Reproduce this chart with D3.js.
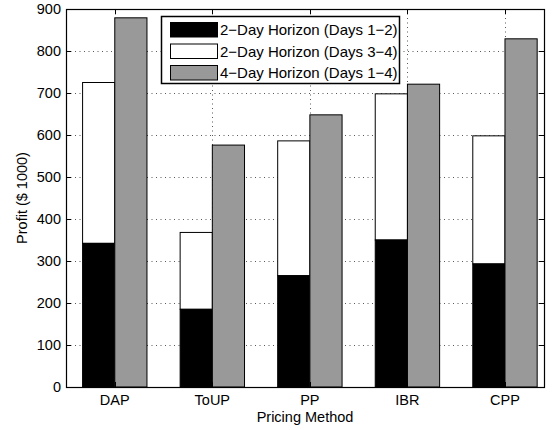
<!DOCTYPE html>
<html><head><meta charset="utf-8">
<script src="https://cdn.jsdelivr.net/npm/d3@7"></script>
<style>html,body{margin:0;padding:0;background:#fff;}svg{display:block;font-family:"Liberation Sans",Arial,sans-serif;}</style>
</head><body>
<svg id="c" width="559" height="430"></svg>
<script>
const categories = ["DAP","ToUP","PP","IBR","CPP"];
const days12 = [342,185,265,350,293];
const days34 = [383,183,321,348,305];
const days14 = [879,576,648,721,829];
const seriesNames = ["2\u2212Day Horizon (Days 1\u22122)","2\u2212Day Horizon (Days 3\u22124)","4\u2212Day Horizon (Days 1\u22124)"];
const seriesColors = ["#000000","#ffffff","#999999"];
const yTicks = [0,100,200,300,400,500,600,700,800,900];

const svg = d3.select("#c");
const L=66,R=544,T=9,B=387;
const x = d3.scaleLinear().domain([0.5,5.4]).range([L,R]);
const y = d3.scaleLinear().domain([0,900]).range([B,T]);
const bw = 0.33;

// grid
const g = svg.append("g");
g.selectAll(".hg").data(yTicks.slice(1,-1)).join("line")
  .attr("x1",L).attr("x2",R).attr("y1",d=>y(d)+0.5).attr("y2",d=>y(d)+0.5)
  .attr("stroke","#000").attr("stroke-opacity",0.65).attr("stroke-dasharray","1,3.5");
g.selectAll(".vg").data(categories).join("line")
  .attr("x1",(d,i)=>Math.round(x(i+1))+0.5).attr("x2",(d,i)=>Math.round(x(i+1))+0.5)
  .attr("y1",T).attr("y2",B)
  .attr("stroke","#000").attr("stroke-opacity",0.65).attr("stroke-dasharray","1,3.5");

// bars
const bars = svg.append("g").attr("stroke","#000").attr("stroke-width",1);
categories.forEach((c,i)=>{
  const cx = i+1;
  bars.append("rect").attr("x",x(cx-bw)).attr("width",x(cx)-x(cx-bw))
    .attr("y",y(days12[i]+days34[i])).attr("height",y(days12[i])-y(days12[i]+days34[i]))
    .attr("fill",seriesColors[1]);
  bars.append("rect").attr("x",x(cx-bw)).attr("width",x(cx)-x(cx-bw))
    .attr("y",y(days12[i])).attr("height",y(0)-y(days12[i]))
    .attr("fill",seriesColors[0]);
  bars.append("rect").attr("x",x(cx)).attr("width",x(cx+bw)-x(cx))
    .attr("y",y(days14[i])).attr("height",y(0)-y(days14[i]))
    .attr("fill",seriesColors[2]);
});

// axes box
svg.append("rect").attr("x",L+0.5).attr("y",T+0.5).attr("width",R-L).attr("height",B-T)
  .attr("fill","none").attr("stroke","#000").attr("stroke-width",1.2);

// ticks
const tk=5;
const ta = svg.append("g").attr("stroke","#000");
yTicks.forEach(v=>{
  const yy=Math.round(y(v))+0.5;
  ta.append("line").attr("x1",L).attr("x2",L+tk).attr("y1",yy).attr("y2",yy);
  ta.append("line").attr("x1",R-tk).attr("x2",R).attr("y1",yy).attr("y2",yy);
});
categories.forEach((c,i)=>{
  const xx=Math.round(x(i+1))+0.5;
  ta.append("line").attr("x1",xx).attr("x2",xx).attr("y1",T).attr("y2",T+tk);
  ta.append("line").attr("x1",xx).attr("x2",xx).attr("y1",B-tk).attr("y2",B);
});

// tick labels
svg.append("g").selectAll("text").data(yTicks).join("text")
  .attr("x",L-5).attr("y",d=>y(d)).attr("dy","0.35em").attr("text-anchor","end")
  .attr("font-size",14.5).text(d=>d);
svg.append("g").selectAll("text").data(categories).join("text")
  .attr("x",(d,i)=>x(i+1)).attr("y",B+18).attr("text-anchor","middle")
  .attr("font-size",14.5).text(d=>d);

// axis labels
svg.append("text").attr("x",(L+R)/2).attr("y",422).attr("text-anchor","middle")
  .attr("font-size",14.5).text("Pricing Method");
svg.append("text").attr("transform",`translate(27,${(T+B)/2}) rotate(-90)`)
  .attr("text-anchor","middle").attr("font-size",14.5).text("Profit ($ 1000)");

// legend
const lg = svg.append("g");
lg.append("rect").attr("x",161.5).attr("y",16.5).attr("width",238).attr("height",67)
  .attr("fill","#fff").attr("stroke","#000").attr("stroke-width",1.5);
seriesNames.forEach((s,i)=>{
  const yy = 22.5 + i*21.5;
  lg.append("rect").attr("x",170.5).attr("y",yy).attr("width",47).attr("height",14.5)
    .attr("fill",seriesColors[i]).attr("stroke","#000");
  lg.append("text").attr("x",220).attr("y",yy+7.5).attr("dy","0.35em")
    .attr("font-size",15).text(s);
});
</script>
</body></html>
